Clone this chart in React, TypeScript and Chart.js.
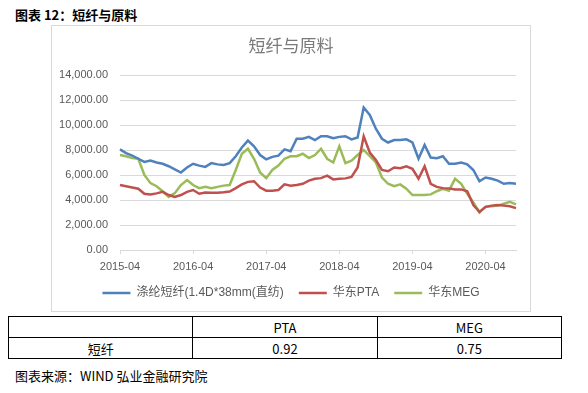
import React, { useEffect, useRef } from "react";
import { Chart, registerables } from "chart.js";

Chart.register(...registerables);

function buildMonths(startYear: number, startMonth: number, count: number): string[] {
  const out: string[] = [];
  let y = startYear;
  let m = startMonth;
  for (let i = 0; i < count; i++) {
    out.push(`${y}-${String(m).padStart(2, "0")}`);
    m++;
    if (m > 12) {
      m = 1;
      y++;
    }
  }
  return out;
}

const months = buildMonths(2015, 4, 66);

const psfValues = [
  8050, 7750, 7550, 7300, 7050, 7150, 7000, 6900, 6700, 6450,
  6200, 6600, 6900, 6750, 6650, 6950, 6850, 6800, 6950, 7500,
  8200, 8750, 8300, 7600, 7250, 7450, 7550, 8050, 7900, 8900,
  8900, 9050, 8800, 9100, 9100, 8950, 9050, 9100, 8850, 9000,
  11400, 10800, 9700, 8900, 8600, 8800, 8800, 8850, 8600, 7300,
  8400, 7400, 7350, 7500, 6900, 6900, 7000, 6850, 6400, 5500,
  5800, 5700, 5550, 5300, 5350, 5300,
];

const ptaValues = [
  5200, 5100, 5000, 4900, 4500, 4450, 4530, 4650, 4400, 4250,
  4400, 4650, 4800, 4500, 4600, 4580, 4580, 4620, 4680, 4950,
  5250, 5450, 5500, 5000, 4750, 4750, 4800, 5250, 5150, 5200,
  5300, 5550, 5700, 5750, 5950, 5650, 5700, 5730, 5850, 6600,
  9100, 7800, 7200, 6400, 6300, 6600, 6550, 6700, 6500, 5700,
  6700, 5300, 5050, 4950, 4930, 4850, 4850, 4700, 3600, 3050,
  3450, 3550, 3600, 3550, 3500, 3350,
];

const megValues = [
  7600, 7500, 7350, 7300, 6000, 5350, 5100, 4700, 4250, 4550,
  5200, 5600, 5200, 4950, 5050, 4950, 5050, 5150, 5200, 6400,
  7700, 8100, 7300, 6200, 5750, 6400, 6750, 7300, 7500, 7500,
  7700, 7350, 7600, 8100, 7300, 7000, 8300, 6950, 7150, 7600,
  8000, 7500, 7000, 5800, 5300, 5100, 5250, 4900, 4400, 4400,
  4400, 4450, 4700, 4900, 4750, 5700, 5300, 4500, 3800, 3000,
  3450, 3500, 3550, 3700, 3850, 3650,
];

const seriesNames = ["涤纶短纤(1.4D*38mm(直纺)", "华东PTA", "华东MEG"];
const seriesColors = ["#4F81BD", "#C0504D", "#9BBB59"];

const tableHeader = ["", "PTA", "MEG"];
const tableRow = ["短纤", "0.92", "0.75"];

const cjk = '"Noto Sans CJK SC", "Noto Sans", sans-serif';
const latin = '"Liberation Sans", Arial, sans-serif';
const mixed = '"Liberation Sans", "Noto Sans CJK SC", sans-serif';

export default function App() {
  const canvasRef = useRef<HTMLCanvasElement | null>(null);

  useEffect(() => {
    if (!canvasRef.current) return;
    const values = [psfValues, ptaValues, megValues];
    const chart = new Chart(canvasRef.current, {
      type: "line",
      data: {
        labels: months,
        datasets: seriesNames.map((name, i) => ({
          label: name,
          data: values[i],
          borderColor: seriesColors[i],
          backgroundColor: seriesColors[i],
          borderWidth: 2.5,
          pointRadius: 0,
          tension: 0,
          fill: false,
          yAxisID: "y",
        })),
      },
      options: {
        animation: false,
        responsive: false,
        maintainAspectRatio: false,
        layout: { padding: { left: 0, right: 0, top: 0, bottom: 2 } },
        plugins: {
          title: {
            display: true,
            text: "短纤与原料",
            color: "#7a7a7a",
            font: { family: cjk, size: 17, weight: "normal" },
            padding: { top: 9, bottom: 19.6 },
          },
          legend: {
            position: "bottom",
            labels: {
              usePointStyle: true,
              pointStyle: "line",
              pointStyleWidth: 28,
              padding: 15,
              color: "#595959",
              font: { family: mixed, size: 12 },
            },
          },
          tooltip: { enabled: false },
        },
        scales: {
          x: {
            type: "category",
            grid: {
              drawOnChartArea: false,
              drawTicks: true,
              tickLength: 4,
              color: "#d9d9d9",
            },
            border: { color: "#d9d9d9" },
            ticks: {
              autoSkip: false,
              maxRotation: 0,
              padding: 6,
              color: "#595959",
              font: { family: latin, size: 11 },
              callback: function (this: any, value: any) {
                const lab = this.getLabelForValue(value);
                return lab.endsWith("-04") ? lab : null;
              },
            },
            afterFit: (scale: any) => {
              scale.height = 22;
            },
          },
          y: {
            position: "left",
            min: 0,
            max: 14000,
            grid: { color: "#d9d9d9", drawTicks: false },
            border: { display: false },
            ticks: {
              stepSize: 2000,
              padding: 12,
              color: "#595959",
              font: { family: latin, size: 11 },
              callback: (v: any) =>
                Number(v).toLocaleString("en-US", {
                  minimumFractionDigits: 2,
                  maximumFractionDigits: 2,
                }),
            },
            afterFit: (scale: any) => {
              scale.width = 68;
            },
          },
          yRight: {
            position: "right",
            display: true,
            grid: { display: false, drawTicks: false },
            border: { display: false },
            ticks: { display: false },
            afterFit: (scale: any) => {
              scale.width = 14;
            },
          },
        },
      },
    });
    return () => chart.destroy();
  }, []);

  const cell: React.CSSProperties = {
    border: "1px solid #000",
    textAlign: "center",
    padding: 0,
    height: 20,
    fontFamily: cjk,
    fontSize: 13,
    color: "#000",
    width: "33.33%",
  };

  return (
    <div
      style={{
        position: "fixed",
        left: 0,
        top: 0,
        width: 588,
        height: 393,
        background: "#fff",
        overflow: "hidden",
      }}
    >
      <div
        style={{
          position: "absolute",
          left: 15,
          top: 6,
          fontFamily: cjk,
          fontSize: 13,
          fontWeight: "bold",
          color: "#000",
          lineHeight: "18px",
          whiteSpace: "nowrap",
        }}
      >
        图表 12：短纤与原料
      </div>
      <div
        style={{
          position: "absolute",
          left: 51,
          top: 25,
          width: 480,
          height: 287,
          boxSizing: "border-box",
          border: "1px solid #d9d9d9",
        }}
      >
        <canvas
          ref={canvasRef}
          width={478}
          height={285}
          style={{ display: "block", width: 478, height: 285 }}
        />
      </div>
      <table
        style={{
          position: "absolute",
          left: 8,
          top: 316,
          width: 554,
          borderCollapse: "collapse",
          tableLayout: "fixed",
        }}
      >
        <tbody>
          <tr>
            {tableHeader.map((t, i) => (
              <td key={i} style={cell}>
                {t}
              </td>
            ))}
          </tr>
          <tr>
            {tableRow.map((t, i) => (
              <td key={i} style={cell}>
                {t}
              </td>
            ))}
          </tr>
        </tbody>
      </table>
      <div
        style={{
          position: "absolute",
          left: 15,
          top: 367,
          fontFamily: cjk,
          fontSize: 13,
          color: "#000",
          lineHeight: "18px",
          whiteSpace: "nowrap",
        }}
      >
        图表来源：WIND 弘业金融研究院
      </div>
    </div>
  );
}
